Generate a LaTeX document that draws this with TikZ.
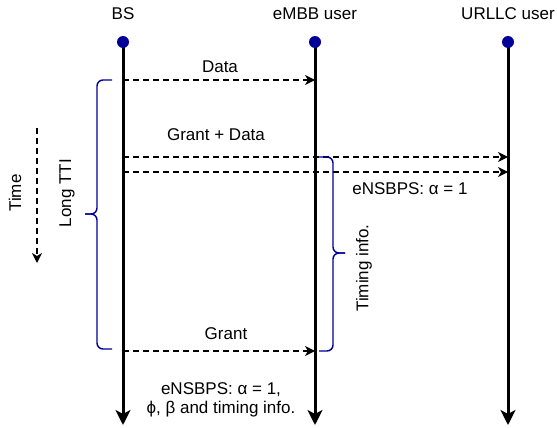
\documentclass[tikz,border=0pt]{standalone}
\usepackage{fontspec}
\setmainfont{Liberation Sans}
\usepackage{tikz}
\usetikzlibrary{arrows.meta}
\definecolor{dblue}{RGB}{0,0,153}

\begin{document}
\begin{tikzpicture}[x=1pt,y=-1pt,font=\fontsize{17}{19}\selectfont,
  dot/.style={circle,fill=dblue,inner sep=0pt,minimum size=12pt},
  life/.style={line width=3pt,-{Stealth[length=15pt,width=15pt,inset=4pt]}},
  msg/.style={line width=1.4pt,dash pattern=on 6pt off 4pt,-{Stealth[length=10pt,width=10pt,inset=3pt]}},
  brace/.style={draw=dblue,line width=1.4pt,rounded corners=6pt}]
\useasboundingbox (0,0) rectangle (557,428);
\pgfmathsetmacro{\ytop}{42}
\pgfmathsetmacro{\yend}{425}
% actors and lifelines
\node (bslbl) at (123,14) {BS};
\node (embblbl) at (315,14) {eMBB user};
\node (urllclbl) at (508,14) {URLLC user};
\coordinate (bsend) at (123,\yend);
\coordinate (embbend) at (315,\yend);
\coordinate (urllcend) at (508,\yend);
\draw[life] (123,\ytop) -- (bsend);
\draw[life] (315,\ytop) -- (embbend);
\draw[life] (508,\ytop) -- (urllcend);
\node[dot] (bs) at (123,\ytop) {};
\node[dot] (embb) at (315,\ytop) {};
\node[dot] (urllc) at (508,\ytop) {};
% messages
\draw[msg] (bs |- 0,80) -- (embb |- 0,80);
\node (data) at (220,67) {Data};
\draw[msg] (bs |- 0,157) -- (urllc |- 0,157);
\draw[msg] (bs |- 0,172) -- (urllc |- 0,172);
\node (grantdata) at (216,135) {Grant + Data};
\node (alpha) at (410,189) {eNSBPS: α = 1};
\draw[msg] (bs |- 0,351) -- (embb |- 0,351);
\node (grant) at (226,334) {Grant};
\node[align=center] (info) at (221,400) {eNSBPS: α = 1,\\ϕ, β and timing info.};
% braces
\draw[brace] (112,80) -- (97,80) -- (97,214) -- (85,214);
\draw[brace] (112,349) -- (97,349) -- (97,214) -- (85,214);
\node[rotate=90] (tti) at (67,193) {Long TTI};
\draw[brace] (319,157) -- (333,157) -- (333,253) -- (345,253);
\draw[brace] (319,351) -- (333,351) -- (333,253) -- (345,253);
\node[rotate=90] (timing) at (364,268) {Timing info.};
% time axis
\coordinate (ttop) at (37,128);
\coordinate (tbot) at (37,263);
\draw[msg] (ttop) -- (tbot);
\node[rotate=90] (time) at (15,193) {Time};
\end{tikzpicture}
\end{document}
